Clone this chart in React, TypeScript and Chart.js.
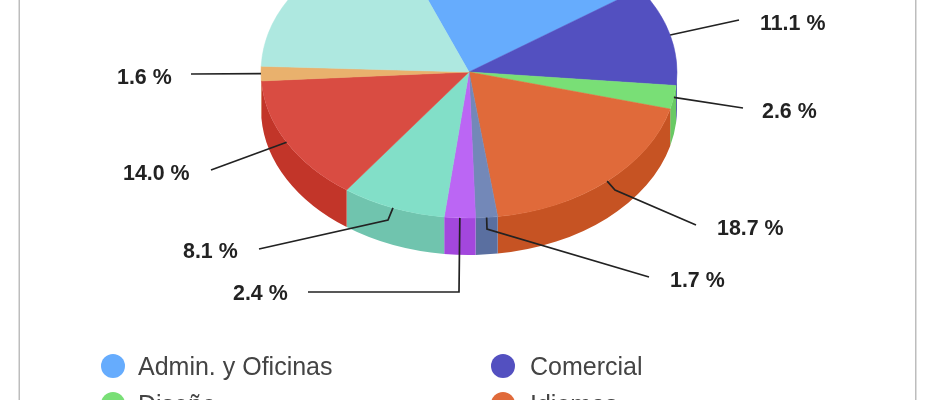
import React, { useEffect, useRef } from "react";
import { Chart, registerables } from "chart.js";

Chart.register(...registerables);

// Only the first four category names are visible in the picture.
const categories = ["Admin. y Oficinas", "Comercial", "Diseño", "Idiomas", "", "", "", "", "", ""];
const shares = [21.4, 11.1, 2.6, 18.7, 1.7, 2.4, 8.1, 14.0, 1.6, 18.3];
const topColors = ["#66acfd", "#5350c0", "#79df76", "#e06a3a", "#7388b8", "#bb66f4", "#82dfc8", "#d94c42", "#e9b16d", "#aee8e0"];
const sideColors = ["#5a9ae4", "#4542a8", "#68c964", "#c65323", "#5a6fa0", "#a347dd", "#70c4ae", "#c23529", "#d09a58", "#96d0c8"];

const ROTATION_DEG = -21.8;
const RADIUS = 208;
const TILT = 0.702;
const DEPTH = 37;
const CENTER_Y = 72;
const FONT_LABEL = 'bold 21.4px "Liberation Sans", Arial, sans-serif';
const FONT_LEGEND = '25px "Liberation Sans", Arial, sans-serif';

type Leader = { via?: [number, number]; end: [number, number]; text: [number, number] } | null;
const leaders: Leader[] = [
  null,
  { end: [739, 20], text: [760, 24] },
  { end: [743, 108], text: [762, 112] },
  { via: [615, 190], end: [696, 225], text: [717, 229] },
  { via: [487, 229], end: [649, 277], text: [670, 281] },
  { via: [459, 292], end: [308, 292], text: [233, 294] },
  { via: [388, 220], end: [259, 249], text: [183, 252] },
  { end: [211, 170], text: [123, 174] },
  { end: [191, 74], text: [117, 78] },
  null,
];

const pseudo3d = {
  id: "pseudo3d",
  beforeDatasetsDraw(chart: any) {
    const ctx = chart.ctx;
    const arcs = chart.getDatasetMeta(0).data;
    const sx = arcs[0].x;
    const rx = arcs[0].outerRadius;
    const ry = rx * TILT;
    // side wall: the front half of the rim of each slice, extruded downward
    arcs.forEach((arc: any, i: number) => {
      for (let k = -1; k <= 1; k++) {
        const a0 = Math.max(arc.startAngle + k * 2 * Math.PI, 0);
        const a1 = Math.min(arc.endAngle + k * 2 * Math.PI, Math.PI);
        if (a1 <= a0) continue;
        ctx.beginPath();
        ctx.ellipse(sx, CENTER_Y, rx, ry, 0, a0, a1);
        ctx.ellipse(sx, CENTER_Y + DEPTH, rx, ry, 0, a1, a0, true);
        ctx.closePath();
        ctx.fillStyle = sideColors[i];
        ctx.fill();
      }
    });
    ctx.save();
    ctx.translate(0, CENTER_Y);
    ctx.scale(1, TILT);
    ctx.translate(0, -arcs[0].y);
  },
  afterDatasetsDraw(chart: any) {
    const ctx = chart.ctx;
    ctx.restore();
    const arcs = chart.getDatasetMeta(0).data;

    // leader lines and percentage labels, anchored on each slice's rim
    arcs.forEach((arc: any, i: number) => {
      const l = leaders[i];
      if (!l) return;
      const mid = (arc.startAngle + arc.endAngle) / 2;
      const ax = arc.x + arc.outerRadius * Math.cos(mid);
      const ay = CENTER_Y + arc.outerRadius * TILT * Math.sin(mid);
      ctx.beginPath();
      ctx.moveTo(ax, ay);
      if (l.via) ctx.lineTo(l.via[0], l.via[1]);
      ctx.lineTo(l.end[0], l.end[1]);
      ctx.strokeStyle = "#222222";
      ctx.lineWidth = 1.7;
      ctx.stroke();
      ctx.font = FONT_LABEL;
      ctx.fillStyle = "#222222";
      ctx.textAlign = "left";
      ctx.textBaseline = "middle";
      ctx.fillText(shares[i].toFixed(1) + " %", l.text[0], l.text[1]);
    });

    // two-column legend
    ctx.font = FONT_LEGEND;
    ctx.textBaseline = "middle";
    categories.forEach((name, i) => {
      if (!name) return;
      const col = i % 2;
      const row = Math.floor(i / 2);
      const y = 366 + row * 38;
      const cx = 113 + col * 390;
      ctx.beginPath();
      ctx.arc(cx, y, 12, 0, Math.PI * 2);
      ctx.fillStyle = topColors[i];
      ctx.fill();
      ctx.fillStyle = "#444444";
      ctx.fillText(name, cx + 25 + col * 2, y + 2);
    });

    // frame sides
    ctx.fillStyle = "#bdbdbd";
    ctx.fillRect(18.5, 0, 1.5, 400);
    ctx.fillRect(915, 0, 1.5, 400);
  },
};

export default function App() {
  const ref = useRef<HTMLCanvasElement>(null);
  useEffect(() => {
    document.body.style.margin = "0";
    const chart = new Chart(ref.current!, {
      type: "pie",
      data: {
        labels: categories,
        datasets: [
          {
            data: shares,
            backgroundColor: topColors,
            borderColor: topColors,
            borderWidth: 0.6,
            clip: false,
          } as any,
        ],
      },
      options: {
        animation: false,
        responsive: false,
        rotation: ROTATION_DEG,
        radius: RADIUS,
        layout: { padding: { right: 7 } },
        plugins: { legend: { display: false }, tooltip: { enabled: false } },
      } as any,
      plugins: [pseudo3d],
    });
    return () => chart.destroy();
  }, []);
  return (
    <div style={{ position: "fixed", left: 0, top: 0, width: 945, height: 400, overflow: "hidden", background: "#fff" }}>
      <canvas ref={ref} width={945} height={400} style={{ display: "block", width: 945, height: 400, filter: "blur(0.6px)" }} />
    </div>
  );
}
